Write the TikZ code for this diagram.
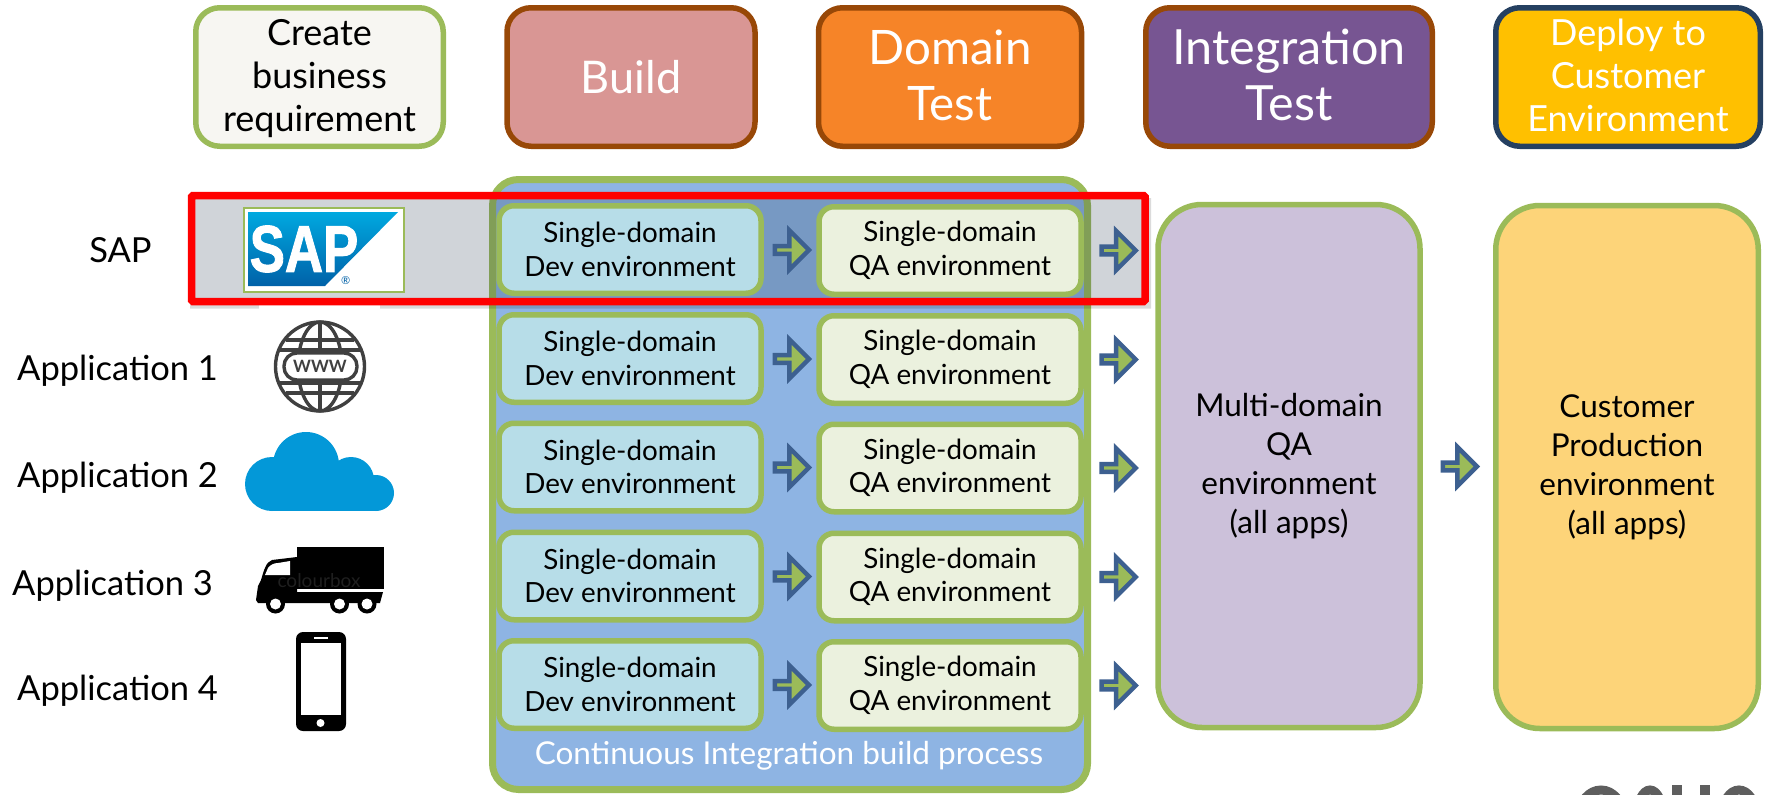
\documentclass[tikz,border=0pt]{standalone}
\usepackage{fontspec}
\setmainfont{Lato}
\newfontfamily\sapf[FakeBold=1.6]{Liberation Sans Bold}
\usetikzlibrary{shapes.arrows,calc}
\definecolor{grn}{HTML}{9BBB59}
\definecolor{brn}{HTML}{984807}
\definecolor{navy}{HTML}{254061}
\definecolor{arrowblue}{HTML}{3D6090}
\definecolor{devfill}{HTML}{B7DDE8}
\definecolor{qafill}{HTML}{EBF1DE}
\definecolor{cifill}{HTML}{8EB4E3}
\definecolor{inktone}{HTML}{404040}
\definecolor{createfill}{HTML}{F7F6F2}
\definecolor{buildfill}{HTML}{D99694}
\definecolor{domainfill}{HTML}{F68428}
\definecolor{integfill}{HTML}{775592}
\definecolor{deployfill}{HTML}{FFC000}
\definecolor{multifill}{HTML}{CCC1DA}
\definecolor{custfill}{HTML}{FDD479}
\definecolor{bandtone}{HTML}{283B52}
\definecolor{cloudblue}{HTML}{0398D8}
\definecolor{saptop}{HTML}{00A9E0}
\definecolor{sapbot}{HTML}{0061A8}
\definecolor{logogrey}{HTML}{5E5E5E}
\tikzset{
 x=1pt,y=-1pt,
 hdr/.style={draw=brn,line width=5.5pt,rounded corners=24pt,minimum width=#1,minimum height=138.5pt,inner sep=0pt,align=center,text=white},
 envbox/.style={draw=grn,line width=5.5pt,rounded corners=15pt,minimum width=262pt,minimum height=87.5pt,inner sep=0pt,align=center,font=\fontsize{27.8}{33.5}\selectfont},
 bigbox/.style={draw=grn,line width=5.5pt,rounded corners=44pt,minimum width=262pt,minimum height=523pt,inner sep=0pt,align=center,font=\fontsize{31.5}{39}\selectfont},
 flow/.style={single arrow,draw=arrowblue,fill=grn,line width=4.5pt,minimum height=34pt,minimum width=39pt,single arrow head extend=9pt,inner sep=0pt,single arrow head indent=0pt},
 lbl/.style={font=\fontsize{34.5}{40}\selectfont,inner sep=0pt},
}
\begin{document}
\begin{tikzpicture}
\useasboundingbox (0,0) rectangle (1770,795);
\clip (0,0) rectangle (1770,795);
% headers
\node[hdr=247.5pt,draw=grn,fill=createfill,text=black,font=\fontsize{36}{43}\selectfont] (create) at (319.5,77) {Create\\business\\requirement\par\vspace*{-4pt}};
\node[hdr=248pt,fill=buildfill,font=\fontsize{45}{50}\selectfont] (build) at (631,77) {Build\par\vspace*{3pt}};
\node[hdr=263pt,fill=domainfill,font=\fontsize{47.5}{56}\selectfont] (domain) at (950,77) {Domain\\Test\par\vspace*{4pt}};
\node[hdr=286.5pt,fill=integfill,font=\fontsize{48.5}{56}\selectfont] (integ) at (1289,77) {Integration\\Test\par\vspace*{4pt}};
\node[hdr=264.5pt,draw=navy,fill=deployfill,text=white,font=\fontsize{36}{43}\selectfont] (deploy) at (1628,77) {Deploy to\\Customer\\Environment\par\vspace*{4pt}};
% CI container
\node[draw=grn,fill=cifill,line width=7pt,rounded corners=26pt,minimum width=595pt,minimum height=610pt,inner sep=0pt] (ci) at (790,484.5) {};
\node[inner sep=0pt,text=white,font=\fontsize{31.5}{36}\selectfont] (citext) at (789,756) {Continuous Integration build process};
% red band shadow, white patch and grey band
\fill[black,opacity=.14,even odd rule] (190,198) rectangle (1151,308.5) (192,197) rectangle (1146,303);
\fill[white] (259,305) rectangle (380,322);
\fill[bandtone,opacity=.22] (191,195) rectangle (1145,302);
% rows
\foreach \i/\yy in {1/249.5,2/358.5,3/467,4/576,5/684.5}{
  \node[envbox,fill=devfill] (dev\i) at (630,\yy) {Single-domain\\Dev environment};
  \node[envbox,fill=qafill] (qa\i) at (950,\yy+1) {Single-domain\\QA environment};
  \node[flow] (mid\i) at ($(dev\i.east)!.5!(qa\i.west)$) {};
  \node[flow] (out\i) at ($(qa\i.east)+(33,0)$) {};
}
% big boxes
\node[bigbox,fill=multifill] (multi) at (1289,466) {Multi-domain\\QA\\environment\\(all apps)};
\node[bigbox,fill=custfill,minimum width=262.5pt] (cust) at (1627,467) {Customer\\Production\\environment\\(all apps)};
\node[flow] (final) at ($(multi.east)!.5!(cust.west)$) {};
% red frame
\draw[red,line width=7.5pt,rounded corners=1.5pt] (191.5,195.5) rectangle (1145,301.5);
% left labels
\node[lbl] (sap) at (120.5,250) {SAP};
\node[lbl,anchor=west] (app1) at (17,371) {Application 1};
\node[lbl,anchor=west] (app2) at (17,478) {Application 2};
\node[lbl,anchor=west] (app3) at (12,586) {Application 3};
\node[lbl,anchor=west] (app4) at (17,691) {Application 4};
% SAP logo
\draw[grn,line width=2pt,fill=white] (244,207.5) rectangle (404,291.5);
\shade[top color=saptop,bottom color=sapbot] (248,212) -- (398,212) -- (325,286) -- (248,286) -- cycle;
\node[inner sep=0pt,text=white,font=\fontsize{66}{66}\sapf\selectfont,xscale=.8] (saptext) at (304,249) {SAP};
\node[inner sep=0pt,text=sapbot,font=\fontsize{11}{11}\selectfont] (sapreg) at (345.6,281) {®};
% globe
\begin{scope}[draw=inktone,line width=3.4pt]
 \draw (320,366.5) circle[x radius=44.5pt,y radius=44.5pt];
 \draw (320,366.5) circle[x radius=22pt,y radius=44.5pt];
 \draw (320,322) -- (320,411);
 \draw (286,340) -- (354,340);
 \draw (279,350) -- (361,350);
 \draw (279,383) -- (361,383);
 \draw (286,393) -- (354,393);
 \draw[fill=white,rounded corners=13pt] (284,353) rectangle (357,380);
\end{scope}
\node[inner sep=0pt,text=inktone,font=\fontsize{17}{17}\bfseries\selectfont] (www) at (320,366) {WWW};
% cloud
\fill[cloudblue] (306,465) circle[radius=33pt] (272,484) circle[radius=27pt] (351,480) circle[radius=23pt] (376,493) circle[radius=18pt];
\fill[cloudblue] (272,480) rectangle (376,511);
% truck
\fill[black] (297,547) rectangle (384,589);
\fill[black] (297,557) -- (272,560) .. controls (266,562) and (264,570) .. (261,580) -- (258,586) -- (256,600) -- (258,603) -- (380,603) -- (383,592) -- (297,592) -- cycle;
\fill[white] (265,575) -- (268,568) .. controls (270,565) and (274,563) .. (278,563) -- (290,561) -- (290,575) -- cycle;
\foreach \wx in {275.5,339.5,367}{
  \fill[black] (\wx,604) circle[radius=9.5pt];
  \fill[white] (\wx,604) circle[radius=5.5pt];
}
\node[inner sep=0pt,text=black!88,font=\fontsize{19}{19}\selectfont] (wm) at (319,581) {colourbox};
% phone
\fill[black,rounded corners=7pt] (296,632) rectangle (346,731);
\fill[white] (301,643) rectangle (341,715);
\fill[white] (314,637) rectangle (328,639);
\fill[white] (320.5,723) circle[radius=4pt];
% cut-off logo
\draw[logogrey,line width=9pt] (1601,816) ellipse[x radius=22pt,y radius=26pt];
\draw[logogrey,line width=9pt] (1650,816) ellipse[x radius=13pt,y radius=26pt];
\fill[logogrey] (1672,785) rectangle (1682,800);
\fill[logogrey] (1700,785) rectangle (1710,800);
\draw[logogrey,line width=9pt] (1739,816) ellipse[x radius=17pt,y radius=26pt];
\end{tikzpicture}
\end{document}
